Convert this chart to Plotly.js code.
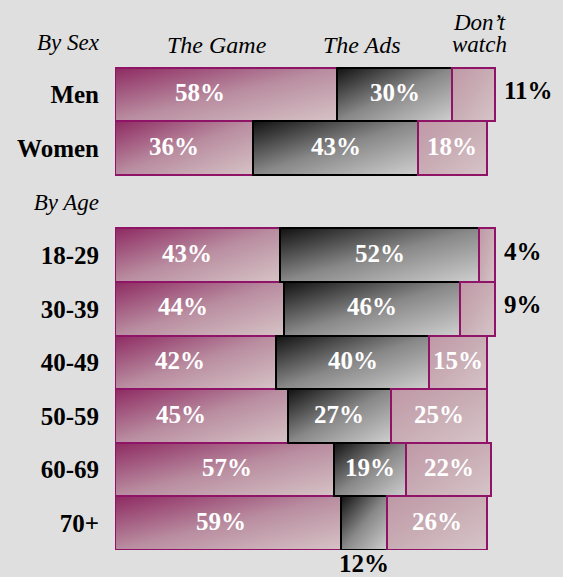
<!DOCTYPE html>
<html>
<head>
<meta charset="utf-8">
<script src="https://cdn.plot.ly/plotly-3.0.1.min.js"></script>
<style>
  html, body { margin: 0; padding: 0; background: #dfdfdf; }
  #chart { width: 563px; height: 577px; }
</style>
</head>
<body>
<div id="chart"></div>
<script>
// ---- data ----
const rowIds = ['bysex', 'Men', 'Women', 'byage', '18-29', '30-39', '40-49', '50-59', '60-69', '70+'];
const rowLabels = ['By Sex', 'Men', 'Women', 'By Age', '18-29', '30-39', '40-49', '50-59', '60-69', '70+'];
const groups = ['Men', 'Women', '18-29', '30-39', '40-49', '50-59', '60-69', '70+'];
const game = [58, 36, 43, 44, 42, 45, 57, 59];
const ads = [30, 43, 52, 46, 40, 27, 19, 12];
const dontWatch = [11, 18, 4, 9, 15, 25, 22, 26];
const seriesNames = ['The Game', 'The Ads', 'Don’t watch'];

// ---- styling ----
const FONT = '"Liberation Serif", "Times New Roman", serif';
const series = [game, ads, dontWatch];
const fills = ['#b47f96', '#7a7a7a', '#caaeb5'];
const lines = ['#8f1468', '#000000', '#8f1468'];
// small hand nudges (px) of the first-segment labels, as placed in the original
const gameLabelNudge = [-26, -10, -10, -16, -16, -20, 3, -7];
const yPos = groups.map(g => rowIds.indexOf(g));
const tickText = rowLabels.map((t, i) =>
  (rowIds[i] === 'bysex' || rowIds[i] === 'byage')
    ? '<span style="font-size:23px"><i>' + t + '</i></span>'
    : '<b>' + t + '</b>');

const traces = series.map((vals, i) => ({
  type: 'bar',
  orientation: 'h',
  name: seriesNames[i],
  x: vals,
  y: yPos,
  width: 1,
  marker: { color: fills[i], line: { color: lines[i], width: 2 } },
  hoverinfo: 'skip'
}));

const annotations = [];
const hdrFont = { family: FONT, size: 24, color: '#000' };
// column headers
annotations.push({ text: '<i>' + seriesNames[0] + '</i>', x: 26.6, y: 0, xref: 'x', yref: 'y', yshift: -4, showarrow: false, font: hdrFont });
annotations.push({ text: '<i>' + seriesNames[1] + '</i>', x: 64.4, y: 0, xref: 'x', yref: 'y', yshift: -4, showarrow: false, font: hdrFont });
const dw = seriesNames[2].split(' ');
annotations.push({ text: '<i>' + dw[0] + '</i>', x: 95.0, y: 0, xref: 'x', yref: 'y', yshift: 18, showarrow: false, font: { family: FONT, size: 23, color: '#000' } });
annotations.push({ text: '<i>' + dw[1] + '</i>', x: 95.0, y: 0, xref: 'x', yref: 'y', yshift: -4, showarrow: false, font: { family: FONT, size: 23, color: '#000' } });

// value labels
groups.forEach((g, k) => {
  let start = 0;
  series.forEach((vals, i) => {
    const v = vals[k];
    const label = '<b>' + v + '%</b>';
    const y = yPos[k];
    if (v >= 14) {
      annotations.push({
        text: label, x: start + v / 2, y: y, xref: 'x', yref: 'y',
        xshift: i === 0 ? gameLabelNudge[k] : 0, yshift: 2,
        showarrow: false, font: { family: FONT, size: 25, color: '#ffffff' }
      });
    } else if (i === series.length - 1) {
      annotations.push({
        text: label, x: start + v, y: y, xref: 'x', yref: 'y',
        xanchor: 'left', xshift: 7, yshift: 4,
        showarrow: false, font: { family: FONT, size: 25, color: '#000000' }
      });
    } else {
      annotations.push({
        text: label, x: start + v / 2, y: y, xref: 'x', yref: 'y',
        yshift: -40,
        showarrow: false, font: { family: FONT, size: 25, color: '#000000' }
      });
    }
    start += v;
  });
});

const layout = {
  width: 563,
  height: 577,
  margin: { l: 115, r: 7, t: 14, b: 27 },
  paper_bgcolor: '#dfdfdf',
  plot_bgcolor: '#dfdfdf',
  barmode: 'stack',
  bargap: 0,
  showlegend: false,
  hovermode: false,
  font: { family: FONT, size: 24, color: '#000' },
  xaxis: { range: [0, 115], visible: false, fixedrange: true },
  yaxis: {
    range: [9.5, -0.5],
    tickmode: 'array',
    tickvals: rowIds.map((_, i) => i),
    ticktext: tickText,
    ticks: '',
    ticklabelstandoff: 15,
    showgrid: false,
    zeroline: false,
    showline: false,
    tickfont: { family: FONT, size: 25, color: '#000' },
    fixedrange: true
  },
  annotations: annotations
};

const gradStops = [
  [['0', '#8e2a62'], ['0.5', '#b98da0'], ['1', '#d6c3c6']],
  [['0', '#111111'], ['0.5', '#888888'], ['1', '#cfcfcf']],
  [['0', '#bf98a6'], ['0.5', '#c9adb5'], ['1', '#d6c5c8']]
];

Plotly.newPlot('chart', traces, layout, { displayModeBar: false, staticPlot: true }).then(gd => {
  const svgNS = 'http://www.w3.org/2000/svg';
  const svg = gd.querySelector('svg.main-svg');
  let defs = svg.querySelector('defs');
  if (!defs) { defs = document.createElementNS(svgNS, 'defs'); svg.insertBefore(defs, svg.firstChild); }
  gradStops.forEach((stops, i) => {
    const lg = document.createElementNS(svgNS, 'linearGradient');
    lg.setAttribute('id', 'barGrad' + i);
    lg.setAttribute('x1', '0'); lg.setAttribute('y1', '0');
    lg.setAttribute('x2', '1'); lg.setAttribute('y2', '1');
    stops.forEach(([off, col]) => {
      const s = document.createElementNS(svgNS, 'stop');
      s.setAttribute('offset', off);
      s.setAttribute('stop-color', col);
      lg.appendChild(s);
    });
    defs.appendChild(lg);
  });
  const traceGroups = gd.querySelectorAll('.barlayer .trace');
  traceGroups.forEach((tg, i) => {
    tg.querySelectorAll('path').forEach(p => { p.style.fill = 'url(#barGrad' + i + ')'; });
  });
});
</script>
</body>
</html>
